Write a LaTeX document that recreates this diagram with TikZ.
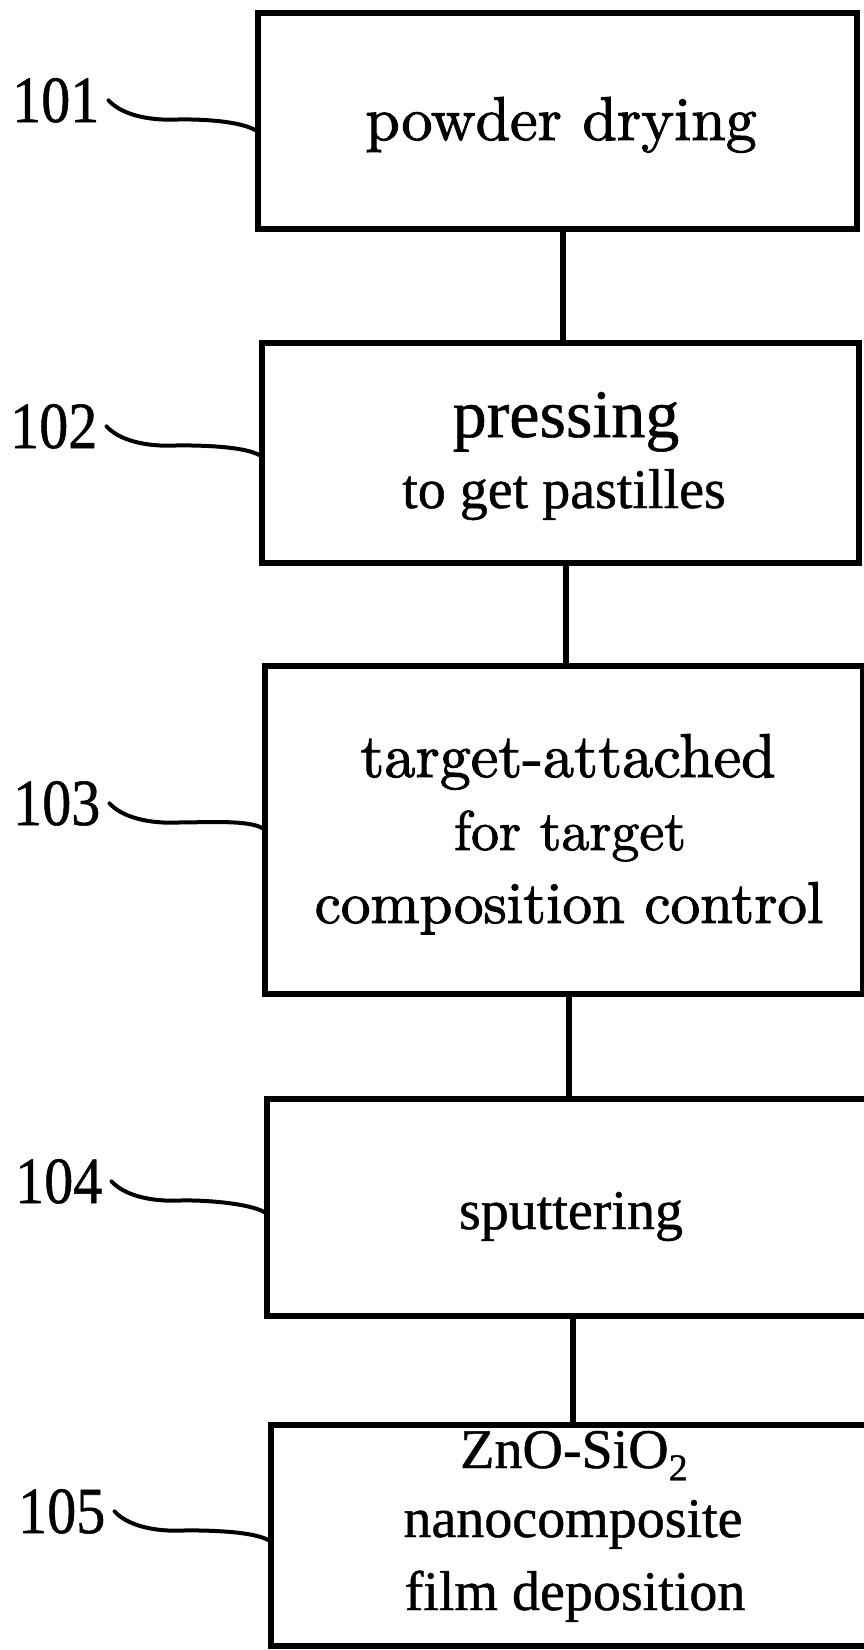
\documentclass[tikz,border=0pt]{standalone}
\usepackage{fontspec}
\usepackage{graphicx}
\newfontfamily\tnr{Liberation Serif}[FakeBold=0.8]
\newfontfamily\lmr{lmroman10-regular.otf}[FakeBold=1.6]
\begin{document}
\begin{tikzpicture}[x=1pt,y=-1pt,
  box/.style={draw, line width=5.5pt, inner sep=0pt},
  link/.style={line width=5.5pt},
  lead/.style={line width=4pt, line cap=round},
  lab/.style={inner sep=0pt, anchor=base west, font=\tnr\fontsize{66}{70}\selectfont},
  txt/.style={inner sep=0pt, anchor=base},
  lmbig/.style={font=\lmr\fontsize{62}{70}\selectfont},
  tms/.style={font=\tnr\fontsize{56}{60}\selectfont}
]
\clip (0,0) rectangle (864,1650);
\fill[white] (0,0) rectangle (864,1650);

% boxes
\node[box, minimum width=599pt, minimum height=216pt] (b1) at (557.5,121) {};
\node[box, minimum width=597pt, minimum height=220pt] (b2) at (560.5,453) {};
\node[box, minimum width=598pt, minimum height=328pt] (b3) at (564,830) {};
\node[box, minimum width=613pt, minimum height=217pt] (b4) at (573.5,1207.5) {};
\node[box, minimum width=613pt, minimum height=221pt] (b5) at (577.5,1535.5) {};

% texts
\node[txt, lmbig] (t1) at (561,140) {powder drying};
\node[txt, font=\tnr\fontsize{68}{70}\selectfont] (t2a) at (566,437) {pressing};
\node[txt, tms] (t2b) at (564,508) {to get pastilles};
\node[txt, lmbig] (t3a) at (568,777) {target-attached};
\node[txt, font=\lmr\fontsize{56}{70}\selectfont] (t3b) at (570,850) {for target};
\node[txt, font=\lmr\fontsize{59}{70}\selectfont] (t3c) at (569,923) {composition control};
\node[txt, tms] (t4) at (571,1229) {sputtering};
\node[txt, tms] (t5a) at (574,1468) {ZnO-SiO\raisebox{-0.22em}{\fontsize{38}{40}\selectfont 2}};
\node[txt, tms] (t5b) at (573,1537) {nanocomposite};
\node[txt, tms] (t5c) at (575,1610) {film deposition};

% connectors
\draw[link] ([xshift=5.5pt]b1.south) -- ([xshift=5.5pt]b1.south |- b2.north);
\draw[link] ([xshift=5.5pt]b2.south) -- ([xshift=5.5pt]b2.south |- b3.north);
\draw[link] ([xshift=5pt]b3.south) -- ([xshift=5pt]b3.south |- b4.north);
\draw[link] ([xshift=-0.5pt]b4.south) -- ([xshift=-0.5pt]b4.south |- b5.north);

% labels
\node[lab] (l1) at (12,122) {\scalebox{0.88}[1]{101}};
\node[lab] (l2) at (10,448) {\scalebox{0.88}[1]{102}};
\node[lab] (l3) at (13,825) {\scalebox{0.88}[1]{103}};
\node[lab] (l4) at (15,1203) {\scalebox{0.88}[1]{104}};
\node[lab] (l5) at (18,1533) {\scalebox{0.88}[1]{105}};

\coordinate (e1) at (b1.west |- 0,130);
\coordinate (e2) at (b2.west |- 0,455);
\coordinate (e3) at (b3.west |- 0,828);
\coordinate (e4) at (b4.west |- 0,1212);
\coordinate (e5) at (b5.west |- 0,1540);

\foreach \i in {1,...,5}{
  \draw[lead] ([xshift=9pt]l\i.east) .. controls +(12,13) and +(-35,2) .. ++(72,19)
     .. controls +(30,0) and +(-15,-8) .. (e\i);
}
\end{tikzpicture}
\end{document}
